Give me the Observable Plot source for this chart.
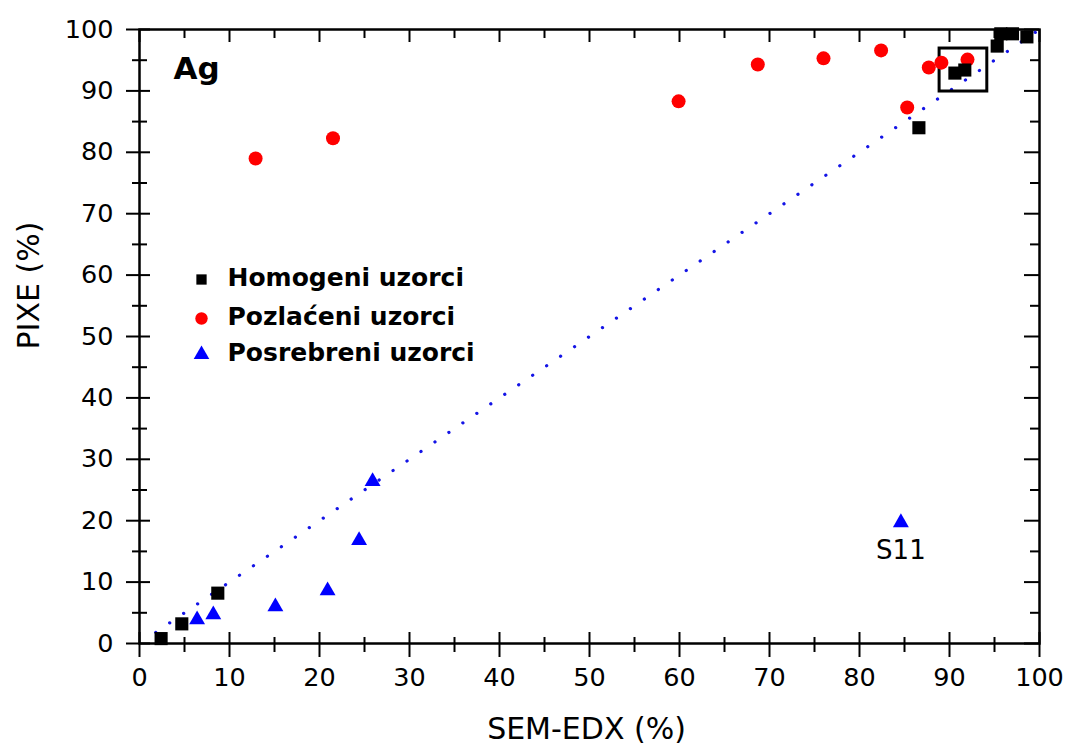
<!DOCTYPE html>
<html>
<head>
<meta charset="utf-8">
<script src="https://cdn.jsdelivr.net/npm/d3@7"></script>
<script src="https://cdn.jsdelivr.net/npm/@observablehq/plot@0.6"></script>
<style>
  html, body { margin: 0; padding: 0; background: #fff; }
  #chart svg { display: block; }
</style>
</head>
<body>
<div id="chart"></div>
<script>
// ---- data ----
const homogeniX = [2.4, 4.7, 8.7, 86.6, 90.6, 91.7, 95.3, 95.7, 97.0, 98.6];
const homogeniY = [0.8, 3.2, 8.2, 84.0, 92.9, 93.4, 97.3, 99.3, 99.3, 98.8];

const pozlaceniX = [12.9, 21.5, 59.9, 68.7, 76.0, 82.4, 85.3, 87.7, 89.1, 92.0];
const pozlaceniY = [79.0, 82.3, 88.3, 94.3, 95.3, 96.6, 87.3, 93.8, 94.6, 95.1];

const posrebreniX = [6.4, 8.2, 15.1, 20.9, 24.4, 25.9, 84.6];
const posrebreniY = [3.9, 4.7, 6.0, 8.6, 16.8, 26.4, 19.7];
const posrebreniLabel = ["", "", "", "", "", "", "S11"];

const refLineX = [1.8, 100];
const refLineY = [1.8, 100];

const zoomBoxX = [88.9, 94.2];
const zoomBoxY = [89.9, 96.9];

const majorTicks = [0, 10, 20, 30, 40, 50, 60, 70, 80, 90, 100];
const minorTicks = [5, 15, 25, 35, 45, 55, 65, 75, 85, 95];

const seriesNames = ["Homogeni uzorci", "Pozlaćeni uzorci", "Posrebreni uzorci"];
const xTitle = "SEM-EDX (%)";
const yTitle = "PIXE (%)";
const panelLabel = "Ag";

// ---- build tables ----
const zip = (xs, ys, extra) => xs.map((x, i) => ({x, y: ys[i], ...(extra ? extra(i) : {})}));
const homogeni = zip(homogeniX, homogeniY);
const pozlaceni = zip(pozlaceniX, pozlaceniY);
const posrebreni = zip(posrebreniX, posrebreniY, i => ({label: posrebreniLabel[i]}));
const refLine = zip(refLineX, refLineY);
const zoomBox = [{x1: zoomBoxX[0], x2: zoomBoxX[1], y1: zoomBoxY[0], y2: zoomBoxY[1]}];

const W = 1069, H = 747;
const mL = 139, mR = 30, mT = 29, mB = 104;
const plotW = W - mL - mR, plotH = H - mT - mB;
const FONT = "DejaVu Sans";
const RED = "#ff0000", BLUE = "#0000ff", BLACK = "#000000";

const legendRows = [
  {name: seriesNames[0], symbol: "square", fill: BLACK, r: 5.8, dy: 250},
  {name: seriesNames[1], symbol: "circle", fill: RED, r: 6.2, dy: 289},
  {name: seriesNames[2], symbol: "triangle", fill: BLUE, r: 5.8, dy: 325}
];

const tickStyle = {stroke: BLACK, strokeWidth: 2};

const chart = Plot.plot({
  width: W,
  height: H,
  marginLeft: mL,
  marginRight: mR,
  marginTop: mT,
  marginBottom: mB,
  style: {fontFamily: FONT, background: "#fff", color: "#000", overflow: "visible"},
  x: {domain: [0, 100]},
  y: {domain: [0, 100]},
  marks: [
    // tick labels
    Plot.axisX(majorTicks, {tickSize: 0, tickPadding: 24, fontSize: 25.5, fontFamily: FONT, label: null, fill: BLACK}),
    Plot.axisY(majorTicks, {tickSize: 0, tickPadding: 26, fontSize: 25.5, fontFamily: FONT, label: null, fill: BLACK}),
    // bottom ticks (crossing)
    Plot.ruleX(majorTicks, {x: d => d, insetTop: plotH - 11, insetBottom: -14, ...tickStyle}),
    Plot.ruleX(minorTicks, {x: d => d, insetTop: plotH - 6, insetBottom: -9, ...tickStyle}),
    // top ticks (inward)
    Plot.ruleX(majorTicks, {x: d => d, insetBottom: plotH - 13, ...tickStyle}),
    Plot.ruleX(minorTicks, {x: d => d, insetBottom: plotH - 9, ...tickStyle}),
    // left ticks (crossing)
    Plot.ruleY(majorTicks, {y: d => d, insetLeft: -13, insetRight: plotW - 11, ...tickStyle}),
    Plot.ruleY(minorTicks, {y: d => d, insetLeft: -7, insetRight: plotW - 8, ...tickStyle}),
    // right ticks (inward)
    Plot.ruleY(majorTicks, {y: d => d, insetLeft: plotW - 15, ...tickStyle}),
    Plot.ruleY(minorTicks, {y: d => d, insetLeft: plotW - 9, ...tickStyle}),
    Plot.frame({stroke: BLACK, strokeWidth: 2.5}),
    // 1:1 dotted line
    Plot.line(refLine, {x: "x", y: "y", stroke: "#1414e6", strokeWidth: 3.2, strokeDasharray: "0.1 16.8", strokeLinecap: "round"}),
    // highlight box
    Plot.rect(zoomBox, {x1: "x1", x2: "x2", y1: "y1", y2: "y2", fill: "none", stroke: BLACK, strokeWidth: 3}),
    // data
    Plot.dot(pozlaceni, {x: "x", y: "y", symbol: "circle", r: 7, fill: RED, stroke: "none"}),
    Plot.dot(posrebreni, {x: "x", y: "y", symbol: "triangle", r: 5.9, fill: BLUE, stroke: "none"}),
    Plot.dot(homogeni, {x: "x", y: "y", symbol: "square", r: 7.4, fill: BLACK, stroke: "none"}),
    Plot.text(posrebreni.filter(d => d.label), {x: "x", y: "y", text: "label", dy: 28, fontSize: 26, fill: BLACK, lineAnchor: "middle"}),
    // panel label
    Plot.text([panelLabel], {frameAnchor: "top-left", dx: 34, dy: 40, textAnchor: "start", lineAnchor: "middle", fontSize: 31, fontWeight: "bold", fill: BLACK}),
    // legend
    ...legendRows.flatMap(row => [
      Plot.dot([row], {frameAnchor: "top-left", dx: 62, dy: row.dy, symbol: row.symbol, r: row.r, fill: row.fill, stroke: "none"}),
      Plot.text([row], {frameAnchor: "top-left", dx: 88, dy: row.dy - 2, text: "name", textAnchor: "start", lineAnchor: "middle", fontSize: 25, fontWeight: "bold", fill: BLACK})
    ]),
    // axis titles
    Plot.text([xTitle], {frameAnchor: "bottom", dx: -3, dy: 86, fontSize: 30, lineAnchor: "middle", fill: BLACK}),
    Plot.text([yTitle], {frameAnchor: "left", dx: -110, dy: 13, rotate: -90, fontSize: 30, lineAnchor: "middle", fill: BLACK})
  ]
});
document.getElementById("chart").appendChild(chart);
</script>
</body>
</html>
